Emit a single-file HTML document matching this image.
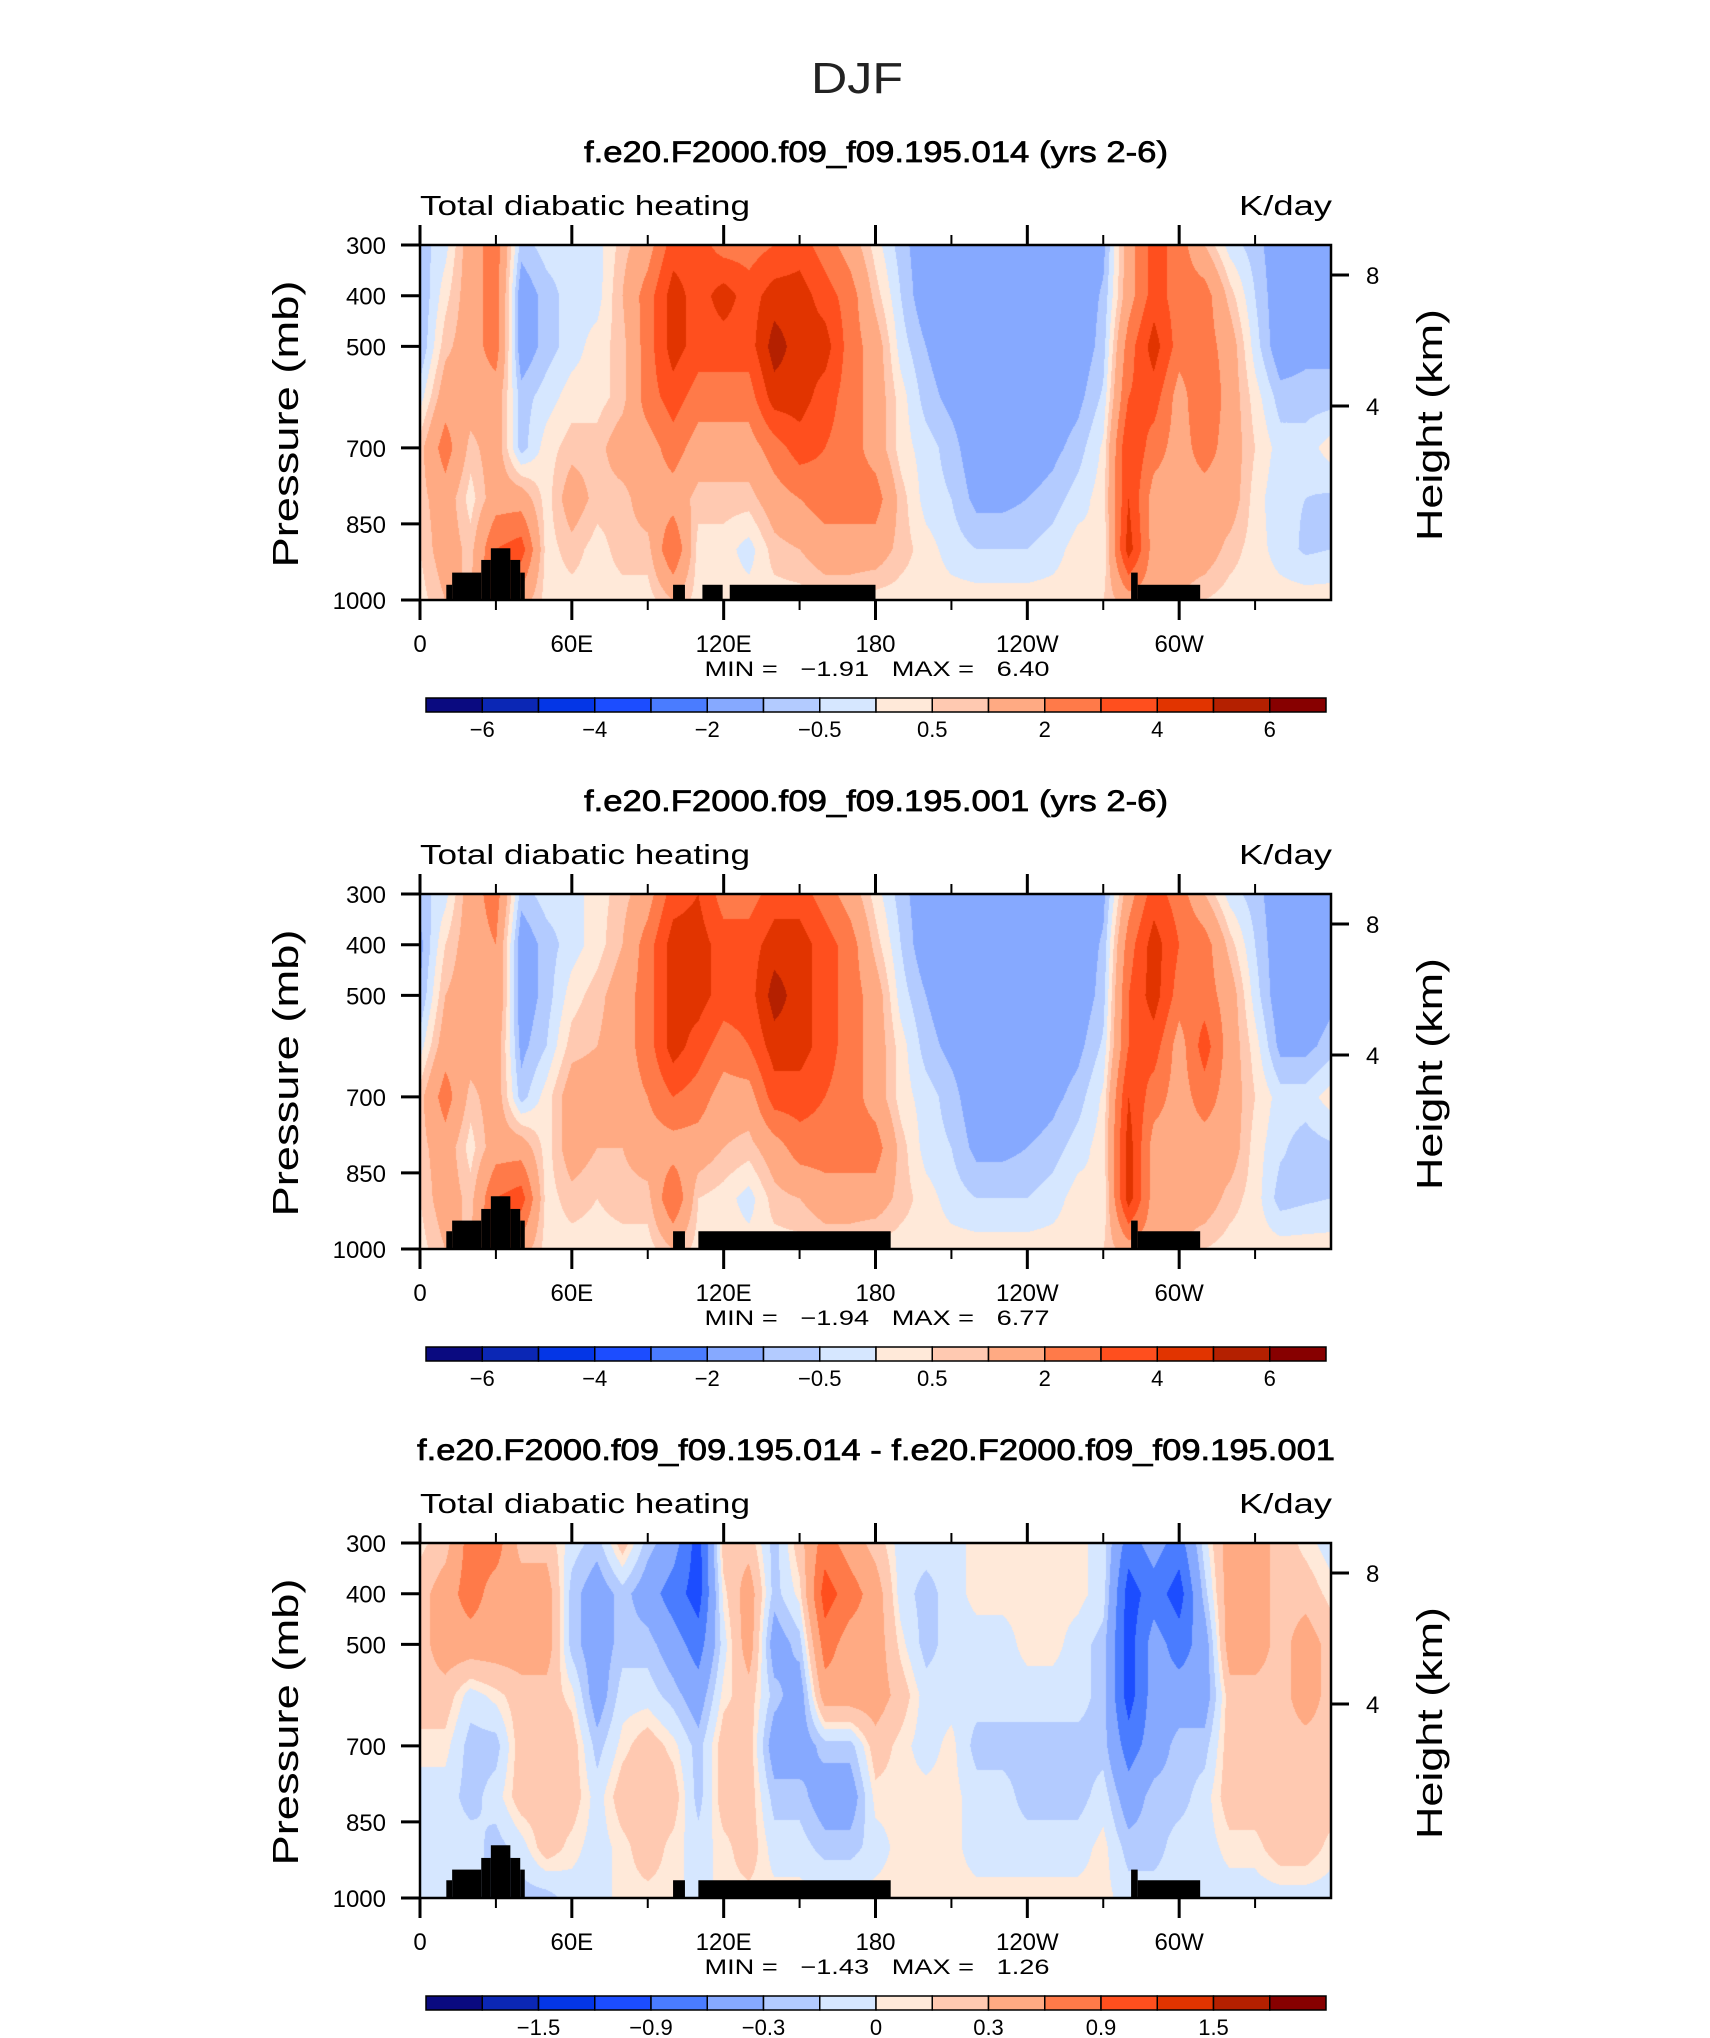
<!DOCTYPE html>
<html><head><meta charset="utf-8"><title>DJF Total diabatic heating</title>
<style>
html,body{margin:0;padding:0;background:#fff;}
#page{position:relative;width:1710px;height:2038px;overflow:hidden;background:#fff;font-family:"Liberation Sans",sans-serif;}
canvas{position:absolute;}
svg{position:absolute;left:0;top:0;}
</style></head>
<body>
<div id="page">
<svg id="svg" width="1710" height="2038"></svg>
</div>
<script>
// ---------- data ----------
const lons = [0,10,20,30,40,50,60,70,80,90,100,110,120,130,140,150,160,170,180,190,200,210,220,230,240,250,260,270,280,290,300,310,320,330,340,350,360];
const pLevels = [300,400,500,600,700,800,900,1000];
// panel 1: f.e20.F2000.f09_f09.195.014  (values per longitude at pLevels)
const heat014 = [
[-0.75,-1,-1,-0.25,0.75,0.75,0.5,0.25],
[-0.2,0.3,0.8,1.5,2.5,1.5,1.5,1],
[1.5,1.5,1.5,1.5,0.75,0.25,0.75,1],
[2.5,2.5,2.5,1.5,1.5,1.5,3,3],
[-0.75,-1.5,-1.5,-0.75,-0.75,1.5,3.5,1.5],
[-0.25,-0.75,-0.75,-0.25,0.25,0.25,0.25,0.25],
[-0.25,-0.25,-0.25,0.25,0.75,1.5,0.75,0.25],
[-0.25,-0.25,0.25,0.25,0.75,0.75,0.25,0.25],
[0.75,1,0.75,0.75,1.5,0.75,0.75,0.25],
[1.5,2.5,2.5,2.5,1.5,1.5,0.75,0.25],
[3.5,4.5,4.5,3.5,2.5,1.5,3,1],
[3.5,3.5,3.5,2.5,1.5,0.75,0.25,0.25],
[2.5,4.5,3.5,2.5,1.5,0.75,0.25,0.25],
[2.5,3.5,3.5,2.5,1.5,0.75,-0.25,0.25],
[3,4.5,5.5,4.5,2.5,1.5,0.75,0.25],
[3.5,4.5,4.5,4.5,3.5,2,1,0.25],
[2.5,3.5,4.5,3.5,3,2.5,1.5,0.5],
[1.5,2.5,2.5,2.5,2.5,2.5,1.5,0.5],
[0.25,0.75,1.5,1.5,1.5,2.5,1.5,0.25],
[-0.75,-0.5,-0.25,0.25,0.25,0.75,0.75,0.25],
[-1.5,-1.5,-1,-0.75,-0.25,-0.25,0.25,0.25],
[-1.5,-1.5,-1.5,-1.2,-0.75,-0.5,-0.25,0.25],
[-1.5,-1.5,-1.5,-1.5,-1.5,-1.2,-0.5,0.25],
[-1.5,-1.5,-1.5,-1.5,-1.5,-1.2,-0.5,0.25],
[-1.5,-1.5,-1.5,-1.5,-1.5,-1.0,-0.5,0.25],
[-1.5,-1.5,-1.5,-1.5,-1.2,-0.75,-0.25,0.25],
[-1.5,-1.5,-1.5,-1.2,-0.75,-0.25,0.25,0.25],
[-1.2,-0.9,-0.75,-0.4,0.1,0.25,0,0.5],
[1.5,1.5,2.5,3,4,4,4.5,1.5],
[3.5,3.5,4.5,3.5,2.5,1.5,1.5,1.5],
[2.5,2.5,2.5,1.5,1.5,1.5,1.5,1],
[1,2.5,2.5,3,2.5,1.5,1.5,0.5],
[-0.25,0.75,1.5,1.5,1.5,1.5,0.75,0.25],
[-0.75,-0.5,-0.25,0.25,0.5,0.25,0.25,0.25],
[-1.5,-1.5,-1.5,-0.75,-0.25,-0.4,-0.25,0.25],
[-1.5,-1.5,-1.2,-0.75,-0.25,-0.5,-0.6,0.25],
[-1.5,-1.5,-1.2,-0.75,0.25,-0.6,-0.5,0.25]
];
// panel 2: f.e20.F2000.f09_f09.195.001
const heat001 = [
[-0.75,-1.2,-1,-0.25,0.75,0.75,0.5,0.25],
[-0.2,0.5,1,1.5,2.5,1.5,1.5,1],
[1.5,1.5,1.5,1.5,0.75,0.25,0.75,1],
[2.5,2,2,1.5,1.5,1.5,3,3],
[-0.75,-1.5,-1.5,-1.2,-0.75,1.5,3.5,1.5],
[-0.25,-0.75,-0.75,-0.5,0.25,0.25,0.25,0.25],
[-0.25,-0.25,0.25,0.75,1.5,1.5,0.75,0.25],
[0.25,0.25,0.75,1,1.5,1,0.5,0.25],
[0.75,1,1.5,1.5,1.5,1,0.75,0.25],
[1.5,2.5,2.5,2.5,2,1.5,0.75,0.25],
[3.5,4.5,4.5,4.5,3,1.5,3,1],
[4,4.5,4.5,3.5,2.5,1.5,0.5,0.25],
[2.5,3.5,3.5,2.5,1.5,1,0.25,0.25],
[2.5,3.5,3.5,3,1.5,0.75,-0.25,0.25],
[3.5,4.5,5.5,4.5,3.5,1.5,0.75,0.25],
[3.5,4.5,4.5,4.5,3.5,2.5,1,0.25],
[2.5,3.5,3.5,3.5,3,2.5,1.5,0.5],
[1.5,2.5,2.5,2.5,2.5,2.5,1.5,0.5],
[0.25,0.75,1.5,1.5,1.5,2.5,1.5,0.25],
[-0.75,-0.5,-0.25,0.25,0.25,0.75,0.75,0.25],
[-1.5,-1.5,-1,-0.75,-0.25,-0.25,0.25,0.25],
[-1.5,-1.5,-1.5,-1.2,-0.75,-0.5,-0.25,0.25],
[-1.5,-1.5,-1.5,-1.5,-1.5,-1.2,-0.5,0.25],
[-1.5,-1.5,-1.5,-1.5,-1.5,-1.2,-0.5,0.25],
[-1.5,-1.5,-1.5,-1.5,-1.5,-1.0,-0.5,0.25],
[-1.5,-1.5,-1.5,-1.5,-1.2,-0.75,-0.25,0.25],
[-1.5,-1.5,-1.5,-1.2,-0.75,-0.25,0.25,0.25],
[-1.2,-0.9,-0.75,-0.4,0.1,0.25,0,0.5],
[1.5,2.5,3,3,4,4.5,4.5,1.5],
[3.5,4.5,4.5,3.5,2.5,1.5,1.5,1.5],
[2.5,3,2.5,1.5,1.5,1.5,1.5,1],
[1,2.5,2.5,3.5,2.5,1.5,1.5,0.5],
[-0.25,0.75,1.5,1.5,1.5,1.5,0.75,0.25],
[-0.75,-0.5,-0.25,0.25,0.5,0.25,0.25,0.25],
[-1.5,-1.5,-1.5,-1.2,-0.25,-0.4,-0.75,0.25],
[-1.5,-1.5,-1.5,-1.2,-0.25,-0.75,-0.6,0.25],
[-1.5,-1.5,-1.2,-0.75,0.25,-0.6,-0.5,0.25]
];
// panel 3: difference
const heatDiff = [
[0.05,0.2,0.2,0.2,0.05,-0.07,-0.07,-0.07],
[0.2,0.45,0.45,0.2,0.05,-0.07,-0.07,-0.07],
[0.75,0.75,0.45,-0.07,-0.22,-0.22,-0.07,-0.07],
[0.75,0.45,0.45,0.05,-0.22,-0.07,-0.22,-0.22],
[0.2,0.45,0.45,0.2,0.2,0.2,-0.07,-0.22],
[0.2,0.45,0.45,0.2,0.2,0.2,0.2,-0.22],
[-0.07,-0.22,-0.22,0.05,0.2,0.2,0.05,-0.07],
[-0.22,-0.45,-0.45,-0.45,-0.22,-0.07,-0.07,-0.07],
[0.2,-0.22,-0.22,-0.07,0.05,0.2,0.05,0.05],
[-0.22,-0.45,-0.22,-0.07,0.2,0.2,0.2,0.05],
[-0.45,-0.75,-0.45,-0.22,0.05,0.2,0.05,0.05],
[-1.05,-1.05,-0.75,-0.45,-0.22,-0.22,-0.07,-0.07],
[0.2,0.05,-0.07,0.05,0.2,0.2,0.05,0.05],
[0.2,0.45,0.45,0.2,0.2,0.2,0.2,0.05],
[-0.22,-0.22,-0.45,-0.22,-0.45,-0.22,-0.07,0.05],
[0.2,0.05,-0.22,-0.45,-0.45,-0.22,-0.07,0.05],
[0.75,1.05,0.75,0.45,-0.22,-0.45,-0.22,0.05],
[0.45,0.75,0.45,0.45,-0.22,-0.45,-0.22,0.05],
[0.2,0.45,0.45,0.45,0.2,0.05,-0.07,0.05],
[-0.07,-0.07,0.05,0.2,0.05,0.05,0.05,0.05],
[-0.07,-0.22,-0.22,-0.07,-0.07,0.05,0.05,0.05],
[-0.07,-0.07,-0.07,-0.07,0.05,0.05,0.05,0.05],
[0.05,0.05,-0.07,-0.07,-0.22,-0.07,-0.07,0.05],
[0.05,0.05,-0.07,-0.07,-0.22,-0.07,-0.07,0.05],
[0.05,0.05,0.05,-0.07,-0.22,-0.22,-0.07,0.05],
[0.05,0.05,0.05,-0.07,-0.22,-0.22,-0.07,0.05],
[0.05,0.05,-0.07,-0.07,-0.22,-0.22,-0.07,0.05],
[-0.07,-0.07,-0.22,-0.22,-0.22,-0.07,0.05,0.05],
[-0.75,-1.05,-1.05,-1.05,-0.75,-0.45,-0.22,-0.07],
[-0.45,-0.75,-0.45,-0.45,-0.45,-0.22,-0.22,-0.07],
[-0.75,-1.05,-0.75,-0.45,-0.22,-0.22,-0.07,-0.07],
[-0.07,-0.22,-0.45,-0.45,-0.22,-0.07,-0.07,-0.07],
[0.45,0.45,0.45,0.2,0.2,0.2,0.05,-0.07],
[0.45,0.45,0.45,0.2,0.2,0.2,0.05,-0.07],
[0.2,0.2,0.2,0.2,0.2,0.2,0.2,-0.07],
[0.05,0.2,0.45,0.45,0.2,0.2,0.2,-0.07],
[-0.07,0.05,0.2,0.2,0.2,0.2,0.05,-0.07]
];
const levelsFull = [-6,-5,-4,-3,-2,-1,-0.5,0,0.5,1,2,3,4,5,6];
const levelsDiff = [-1.8,-1.5,-1.2,-0.9,-0.6,-0.3,-0.15,0,0.1,0.3,0.6,0.9,1.2,1.5,1.8];
const cbLabelsFull = ["-6","-4","-2","-0.5","0.5","2","4","6"];
const cbLabelsDiff = ["-1.5","-0.9","-0.3","0","0.3","0.9","1.5"];
const xTickLabels = ["0","60E","120E","180","120W","60W"];
const yTickLabels = [300,400,500,700,850,1000];
const hTickLabels = ["8","4"];
// topography blocks: start lon, end lon, top pressure
const topoStartA = [10.4,12.7,24.2,28,35.7,39.6,100,111.6,122.4,281,283.6];
const topoEndA   = [12.7,24.2,28,35.7,39.6,41.4,104.7,119.6,180,283.6,308.3];
const topoTopA   = [970,946,921,898,921,946,970,970,970,946,970];
const topoStartB = [10.4,12.7,24.2,28,35.7,39.6,100,110,281,283.6];
const topoEndB   = [12.7,24.2,28,35.7,39.6,41.4,104.7,186,283.6,308.3];
const topoTopB   = [965,944,921,896,921,944,965,965,944,965];
const colors = ["#0a0a80","#0b27b5","#0436e6","#1c4dff","#4a7cff","#86a9ff","#b3cbff","#d6e7ff","#ffe9d9","#ffc9b1","#ffaa83","#ff7a49","#ff4f1e","#e13400","#b42000","#870000"];
const minMaxText = ["MIN =   \u22121.91   MAX =   6.40","MIN =   \u22121.94   MAX =   6.77","MIN =   \u22121.43   MAX =   1.26"];
const titles = ["f.e20.F2000.f09_f09.195.014 (yrs 2-6)","f.e20.F2000.f09_f09.195.001 (yrs 2-6)","f.e20.F2000.f09_f09.195.014 - f.e20.F2000.f09_f09.195.001"];

// ---------- layout ----------
const PL = 420, PW = 911, PH = 355, PT0 = 245;
const panelOffsets = [0, 649, 1298];
const NS = "http://www.w3.org/2000/svg";
const svg = document.getElementById('svg');
const page = document.getElementById('page');
function xOf(lon){ return PL + lon/360*PW; }
function yOf(p, top){ return top + (p-300)/700*PH; }
function mk(tag, attrs, parent){ const e=document.createElementNS(NS,tag); for(const k in attrs) e.setAttribute(k,attrs[k]); (parent||svg).appendChild(e); return e; }
function txt(s, x, y, size, anchor, parent, len){
  const t = mk('text',{x:x,y:y,'font-size':size,'text-anchor':anchor||'start','font-family':'"Liberation Sans", sans-serif',fill:'#000'},parent);
  if(len){ t.setAttribute('textLength',len); t.setAttribute('lengthAdjust','spacingAndGlyphs'); }
  t.textContent = s; return t;
}
function valueAt(data, lon, p){
  let i = Math.min(lons.length-2, Math.floor(lon/10)); let fx = (lon - lons[i])/(lons[i+1]-lons[i]);
  let j = 0; while(j < pLevels.length-2 && p > pLevels[j+1]) j++;
  let fy = (p - pLevels[j])/(pLevels[j+1]-pLevels[j]);
  const a=data[i][j], b=data[i+1][j], c=data[i][j+1], d=data[i+1][j+1];
  return (a*(1-fx)+b*fx)*(1-fy) + (c*(1-fx)+d*fx)*fy;
}
function colorIndex(v, levels){ let k=0; while(k<levels.length && v>levels[k]) k++; return k; }
function hexToRgb(h){ return [parseInt(h.substr(1,2),16),parseInt(h.substr(3,2),16),parseInt(h.substr(5,2),16)]; }
const rgb = colors.map(hexToRgb);

const tit = txt('DJF', 857, 93, 44, 'middle', svg, 92);
tit.setAttribute('font-weight','300');
tit.setAttribute('fill','#222');



function drawPanel(k, data, levels, cbLabels, cbStart, tStart, tEnd, tTop){
  const oy = panelOffsets[k];
  const top = PT0 + oy;
  const g = mk('g',{});
  
  
  // field canvas
  const cv = document.createElement('canvas');
  cv.width = PW; cv.height = PH;
  cv.style.left = PL+'px'; cv.style.top = top+'px';
  
  
  page.insertBefore(cv, svg);
  const ctx = cv.getContext('2d');
  const img = ctx.createImageData(PW, PH);
  for(let py=0; py<PH; py++){
    const p = 300 + (py+0.5)/PH*700;
    for(let px=0; px<PW; px++){
      const lon = (px+0.5)/PW*360;
      const c = rgb[colorIndex(valueAt(data, lon, p), levels)];
      const o = (py*PW+px)*4; img.data[o]=c[0]; img.data[o+1]=c[1]; img.data[o+2]=c[2]; img.data[o+3]=255;
    }
  }
  ctx.putImageData(img,0,0);
  // topography
  for(let i=0;i<tStart.length;i++){
    const r = mk('rect',{x:xOf(tStart[i]),y:yOf(tTop[i],top),width:xOf(tEnd[i])-xOf(tStart[i]),height:yOf(1000,top)-yOf(tTop[i],top),fill:'#000'},g);
    
    
  }
  // frame
  const fr = mk('rect',{x:PL,y:top,width:PW,height:PH,fill:'none',stroke:'#000','stroke-width':2.5},g);
  
  
  // x ticks
  for(let lon=0; lon<=330; lon+=30){
    const major = lon%60===0; const L = major?20:10; const x = xOf(lon);
    mk('line',{x1:x,y1:top+PH,x2:x,y2:top+PH+L,stroke:'#000','stroke-width':major?3:2},g);
    mk('line',{x1:x,y1:top,x2:x,y2:top-L,stroke:'#000','stroke-width':major?3:2},g);
  }
  xTickLabels.forEach((s,i)=>{
    const t = txt(s, xOf(i*60), top+PH+52, 24, 'middle', g);
    
    
  });
  yTickLabels.forEach(p=>{
    const y = yOf(p, top);
    mk('line',{x1:PL-19,y1:y,x2:PL,y2:y,stroke:'#000','stroke-width':3},g);
    const t = txt(String(p), 386, y+9, 24, 'end', g);
    
    
  });
  // right height axis
  [275-245, 406-245].forEach((dy,i)=>{
    mk('line',{x1:PL+PW,y1:top+dy,x2:PL+PW+18,y2:top+dy,stroke:'#000','stroke-width':3},g);
    const t = txt(hTickLabels[i], 1366, top+dy+9, 24, 'start', g);
    
    
  });
  const yl = txt('Pressure (mb)', 0, 0, 36, 'middle', g, 287);
  yl.setAttribute('transform','translate(298,'+(top+179)+') rotate(-90)');
  
  
  const hl = txt('Height (km)', 0, 0, 36, 'middle', g, 232);
  hl.setAttribute('transform','translate(1442,'+(top+180)+') rotate(-90)');
  
  
  // titles
  const pt = txt(titles[k], 876, 162+oy, 30, 'middle', g, k===2?918:584);
  pt.setAttribute('stroke','#000');
  pt.setAttribute('stroke-width','0.7');
  
  
  const lt = txt('Total diabatic heating', 420, 215+oy, 28, 'start', g, 330);
  
  
  const ut = txt('K/day', 1332, 215+oy, 28, 'end', g, 93);
  
  
  const mm = txt(minMaxText[k], 877, 676+oy, 21, 'middle', g, 345);
  mm.setAttribute('style','white-space:pre');
  
  
  // colorbar
  const cbx = 426, cbw = 900, cby = 698+oy, cbh = 14, bw = cbw/colors.length;
  colors.forEach((c,i)=>{
    const r = mk('rect',{x:cbx+i*bw,y:cby,width:bw,height:cbh,fill:c,stroke:'#000','stroke-width':1.5},g);
    
    
  });
  cbLabels.forEach((s,i)=>{
    const t = txt(s.replace('-','\u2212'), cbx+(cbStart+2*i)*bw, cby+39, 22, 'middle', g);
    
    
  });
}
drawPanel(0, heat014, levelsFull, cbLabelsFull, 1, topoStartA, topoEndA, topoTopA);
drawPanel(1, heat001, levelsFull, cbLabelsFull, 1, topoStartB, topoEndB, topoTopB);
drawPanel(2, heatDiff, levelsDiff, cbLabelsDiff, 2, topoStartB, topoEndB, topoTopB);
</script>
</body></html>
